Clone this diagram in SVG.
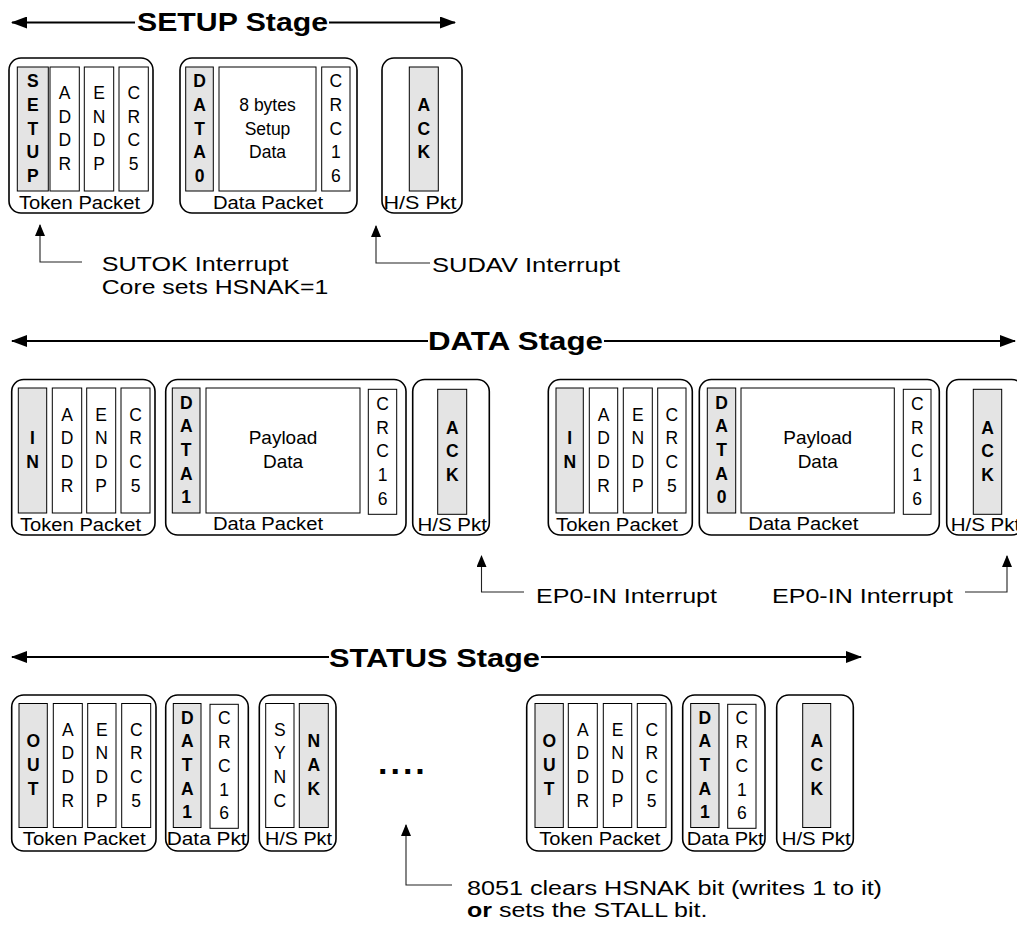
<svg xmlns="http://www.w3.org/2000/svg" width="1017" height="928" viewBox="0 0 1017 928">
<style>
text{font-family:"Liberation Sans",Arial,sans-serif;fill:#000}
.box{fill:#fff;stroke:#000;stroke-width:1.6}
.fld{fill:#fff;stroke:#000;stroke-width:1}
.gry{fill:#e4e4e4;stroke:#000;stroke-width:1}
.v{font-size:17.5px;text-anchor:middle}
.vb{font-size:17.5px;text-anchor:middle;font-weight:bold}
.pl{font-size:19px;text-anchor:middle}
.lbl{font-size:17.5px}
.ttl{font-size:26px;font-weight:bold}
.ann{font-size:20.5px}
.stg{stroke:#000;stroke-width:2;fill:none}
.con{stroke:#222;stroke-width:1.1;fill:none}
</style>
<defs>
<marker id="bigArr" markerUnits="userSpaceOnUse" markerWidth="16" markerHeight="12" refX="15" refY="6" orient="auto-start-reverse" viewBox="0 0 16 12">
<path d="M0,0 L16,6 L0,12 z" fill="#000"/>
</marker>
<marker id="smArr" markerUnits="userSpaceOnUse" markerWidth="12" markerHeight="10" refX="11" refY="5" orient="auto" viewBox="0 0 12 10">
<path d="M0,0 L12,5 L0,10 z" fill="#000"/>
</marker>
</defs>

<g id="connectors">
<line class="stg" x1="135" y1="22.5" x2="12" y2="22.5" marker-end="url(#bigArr)"/>
<line class="stg" x1="329" y1="22.5" x2="455" y2="22.5" marker-end="url(#bigArr)"/>
<line class="stg" x1="428" y1="341" x2="12" y2="341" marker-end="url(#bigArr)"/>
<line class="stg" x1="604" y1="341" x2="1015" y2="341" marker-end="url(#bigArr)"/>
<line class="stg" x1="329" y1="657" x2="12" y2="657" marker-end="url(#bigArr)"/>
<line class="stg" x1="541" y1="657" x2="861" y2="657" marker-end="url(#bigArr)"/>
<polyline class="con" points="82,262 40,262 40,225" marker-end="url(#smArr)"/>
<polyline class="con" points="430,263 376,263 376,226" marker-end="url(#smArr)"/>
<polyline class="con" points="524,592 481.5,592 481.5,556" marker-end="url(#smArr)"/>
<polyline class="con" points="965,592 1007,592 1007,556" marker-end="url(#smArr)"/>
<polyline class="con" points="452,885 406,885 406,825" marker-end="url(#smArr)"/>
</g>

<g id="stage-titles">
<text class="ttl" x="137" y="31" textLength="191" lengthAdjust="spacingAndGlyphs">SETUP Stage</text>
<text class="ttl" x="428" y="350" textLength="175" lengthAdjust="spacingAndGlyphs">DATA Stage</text>
<text class="ttl" x="329" y="666.5" textLength="211" lengthAdjust="spacingAndGlyphs">STATUS Stage</text>
</g>

<g id="setup-token">
<rect class="box" x="9" y="58" width="144" height="155" rx="12"/>
<rect class="gry" x="17.3" y="67" width="31" height="124"/>
<rect class="fld" x="50" y="67" width="29.3" height="124"/>
<rect class="fld" x="84.3" y="67" width="29.4" height="124"/>
<rect class="fld" x="119" y="67" width="29.3" height="124"/>
<text class="vb"><tspan x="32.8" y="87.1">S</tspan><tspan x="32.8" y="110.8">E</tspan><tspan x="32.8" y="134.5">T</tspan><tspan x="32.8" y="158.2">U</tspan><tspan x="32.8" y="181.9">P</tspan></text>
<text class="v"><tspan x="64.7" y="99">A</tspan><tspan x="64.7" y="122.7">D</tspan><tspan x="64.7" y="146.4">D</tspan><tspan x="64.7" y="170.1">R</tspan></text>
<text class="v"><tspan x="99" y="99">E</tspan><tspan x="99" y="122.7">N</tspan><tspan x="99" y="146.4">D</tspan><tspan x="99" y="170.1">P</tspan></text>
<text class="v"><tspan x="133.7" y="99">C</tspan><tspan x="133.7" y="122.7">R</tspan><tspan x="133.7" y="146.4">C</tspan><tspan x="133.7" y="170.1">5</tspan></text>
<text class="lbl" x="19" y="209" textLength="121" lengthAdjust="spacingAndGlyphs">Token Packet</text>
</g>

<g id="setup-data">
<rect class="box" x="180" y="58" width="177" height="155" rx="12"/>
<rect class="gry" x="185.7" y="67" width="27.6" height="124"/>
<rect class="fld" x="219" y="67" width="97" height="124"/>
<rect class="fld" x="321.7" y="67" width="28.3" height="124"/>
<text class="vb"><tspan x="199.5" y="87.1">D</tspan><tspan x="199.5" y="110.8">A</tspan><tspan x="199.5" y="134.5">T</tspan><tspan x="199.5" y="158.2">A</tspan><tspan x="199.5" y="181.9">0</tspan></text>
<text class="v"><tspan x="267.5" y="110.8">8 bytes</tspan><tspan x="267.5" y="134.5">Setup</tspan><tspan x="267.5" y="158.2">Data</tspan></text>
<text class="v"><tspan x="335.9" y="87.1">C</tspan><tspan x="335.9" y="110.8">R</tspan><tspan x="335.9" y="134.5">C</tspan><tspan x="335.9" y="158.2">1</tspan><tspan x="335.9" y="181.9">6</tspan></text>
<text class="lbl" x="213" y="209" textLength="110" lengthAdjust="spacingAndGlyphs">Data Packet</text>
</g>

<g id="setup-hs">
<rect class="box" x="382" y="58" width="80" height="155" rx="12"/>
<rect class="gry" x="409.3" y="67" width="29" height="124"/>
<text class="vb"><tspan x="423.8" y="110.8">A</tspan><tspan x="423.8" y="134.5">C</tspan><tspan x="423.8" y="158.2">K</tspan></text>
<text class="lbl" x="383.5" y="209" textLength="73" lengthAdjust="spacingAndGlyphs">H/S Pkt</text>
</g>

<g id="sutok-note">
<text class="ann" x="101.7" y="271" textLength="186.7" lengthAdjust="spacingAndGlyphs">SUTOK Interrupt</text>
<text class="ann" x="101.7" y="294" textLength="226.7" lengthAdjust="spacingAndGlyphs">Core sets HSNAK=1</text>
</g>
<g id="sudav-note">
<text class="ann" x="432" y="272" textLength="188" lengthAdjust="spacingAndGlyphs">SUDAV Interrupt</text>
</g>

<g id="data1-token">
<rect class="box" x="11.7" y="379.5" width="143.3" height="155.5" rx="12"/>
<rect class="gry" x="18.3" y="388" width="28.4" height="125"/>
<rect class="fld" x="52.3" y="388" width="29.4" height="125"/>
<rect class="fld" x="86.7" y="388" width="29" height="125"/>
<rect class="fld" x="121" y="388" width="29" height="125"/>
<text class="vb"><tspan x="32.5" y="444.2">I</tspan><tspan x="32.5" y="467.9">N</tspan></text>
<text class="v"><tspan x="67" y="420.5">A</tspan><tspan x="67" y="444.2">D</tspan><tspan x="67" y="467.9">D</tspan><tspan x="67" y="491.6">R</tspan></text>
<text class="v"><tspan x="101.2" y="420.5">E</tspan><tspan x="101.2" y="444.2">N</tspan><tspan x="101.2" y="467.9">D</tspan><tspan x="101.2" y="491.6">P</tspan></text>
<text class="v"><tspan x="135.5" y="420.5">C</tspan><tspan x="135.5" y="444.2">R</tspan><tspan x="135.5" y="467.9">C</tspan><tspan x="135.5" y="491.6">5</tspan></text>
<text class="lbl" x="20" y="530.5" textLength="121" lengthAdjust="spacingAndGlyphs">Token Packet</text>
</g>

<g id="data1-data">
<rect class="box" x="165.7" y="379.5" width="240.3" height="155.5" rx="12"/>
<rect class="gry" x="172.3" y="388" width="27.7" height="125"/>
<rect class="fld" x="206" y="388" width="154" height="125"/>
<rect class="fld" x="368.3" y="389.3" width="28.4" height="125"/>
<text class="vb"><tspan x="186.2" y="408.6">D</tspan><tspan x="186.2" y="432.3">A</tspan><tspan x="186.2" y="456">T</tspan><tspan x="186.2" y="479.7">A</tspan><tspan x="186.2" y="503.4">1</tspan></text>
<text class="pl"><tspan x="283" y="444.2">Payload</tspan><tspan x="283" y="467.9">Data</tspan></text>
<text class="v"><tspan x="382.5" y="409.9">C</tspan><tspan x="382.5" y="433.6">R</tspan><tspan x="382.5" y="457.3">C</tspan><tspan x="382.5" y="481">1</tspan><tspan x="382.5" y="504.7">6</tspan></text>
<text class="lbl" x="213" y="530" textLength="110" lengthAdjust="spacingAndGlyphs">Data Packet</text>
</g>

<g id="data1-hs">
<rect class="box" x="412.7" y="379.5" width="76.6" height="155.5" rx="12"/>
<rect class="gry" x="437.7" y="389.3" width="29" height="125"/>
<text class="vb"><tspan x="452.2" y="433.6">A</tspan><tspan x="452.2" y="457.3">C</tspan><tspan x="452.2" y="481">K</tspan></text>
<text class="lbl" x="417.5" y="530.5" textLength="69.5" lengthAdjust="spacingAndGlyphs">H/S Pkt</text>
</g>

<g id="data2-token">
<rect class="box" x="548.3" y="379.5" width="144" height="155.5" rx="12"/>
<rect class="gry" x="556" y="388" width="27.3" height="125"/>
<rect class="fld" x="589.3" y="388" width="28.4" height="125"/>
<rect class="fld" x="623.3" y="388" width="29" height="125"/>
<rect class="fld" x="657.7" y="388" width="28.3" height="125"/>
<text class="vb"><tspan x="569.7" y="444.2">I</tspan><tspan x="569.7" y="467.9">N</tspan></text>
<text class="v"><tspan x="603.5" y="420.5">A</tspan><tspan x="603.5" y="444.2">D</tspan><tspan x="603.5" y="467.9">D</tspan><tspan x="603.5" y="491.6">R</tspan></text>
<text class="v"><tspan x="637.8" y="420.5">E</tspan><tspan x="637.8" y="444.2">N</tspan><tspan x="637.8" y="467.9">D</tspan><tspan x="637.8" y="491.6">P</tspan></text>
<text class="v"><tspan x="671.9" y="420.5">C</tspan><tspan x="671.9" y="444.2">R</tspan><tspan x="671.9" y="467.9">C</tspan><tspan x="671.9" y="491.6">5</tspan></text>
<text class="lbl" x="556" y="530.5" textLength="122" lengthAdjust="spacingAndGlyphs">Token Packet</text>
</g>

<g id="data2-data">
<rect class="box" x="699.3" y="379.5" width="240" height="155.5" rx="12"/>
<rect class="gry" x="707.3" y="388" width="28.4" height="125"/>
<rect class="fld" x="741" y="388" width="153.3" height="125"/>
<rect class="fld" x="903.3" y="389.3" width="27.7" height="125"/>
<text class="vb"><tspan x="721.5" y="408.6">D</tspan><tspan x="721.5" y="432.3">A</tspan><tspan x="721.5" y="456">T</tspan><tspan x="721.5" y="479.7">A</tspan><tspan x="721.5" y="503.4">0</tspan></text>
<text class="pl"><tspan x="817.7" y="444.2">Payload</tspan><tspan x="817.7" y="467.9">Data</tspan></text>
<text class="v"><tspan x="917.2" y="409.9">C</tspan><tspan x="917.2" y="433.6">R</tspan><tspan x="917.2" y="457.3">C</tspan><tspan x="917.2" y="481">1</tspan><tspan x="917.2" y="504.7">6</tspan></text>
<text class="lbl" x="748.3" y="530" textLength="110" lengthAdjust="spacingAndGlyphs">Data Packet</text>
</g>

<g id="data2-hs">
<rect class="box" x="946.7" y="379.5" width="77" height="155.5" rx="12"/>
<rect class="gry" x="973.3" y="389.3" width="28.4" height="125"/>
<text class="vb"><tspan x="987.5" y="433.6">A</tspan><tspan x="987.5" y="457.3">C</tspan><tspan x="987.5" y="481">K</tspan></text>
<text class="lbl" x="950.7" y="530.5" textLength="69.5" lengthAdjust="spacingAndGlyphs">H/S Pkt</text>
</g>

<g id="ep0-note-1">
<text class="ann" x="536" y="603" textLength="181" lengthAdjust="spacingAndGlyphs">EP0-IN Interrupt</text>
</g>
<g id="ep0-note-2">
<text class="ann" x="772" y="603" textLength="181" lengthAdjust="spacingAndGlyphs">EP0-IN Interrupt</text>
</g>

<g id="status1-token">
<rect class="box" x="11.7" y="695" width="144.3" height="156" rx="12"/>
<rect class="gry" x="19" y="703.5" width="28.3" height="124"/>
<rect class="fld" x="53.3" y="703.5" width="29" height="124"/>
<rect class="fld" x="87.7" y="703.5" width="28.3" height="124"/>
<rect class="fld" x="121.7" y="703.5" width="29" height="124"/>
<text class="vb"><tspan x="33.2" y="747.3">O</tspan><tspan x="33.2" y="771">U</tspan><tspan x="33.2" y="794.7">T</tspan></text>
<text class="v"><tspan x="67.8" y="735.5">A</tspan><tspan x="67.8" y="759.2">D</tspan><tspan x="67.8" y="782.9">D</tspan><tspan x="67.8" y="806.6">R</tspan></text>
<text class="v"><tspan x="101.9" y="735.5">E</tspan><tspan x="101.9" y="759.2">N</tspan><tspan x="101.9" y="782.9">D</tspan><tspan x="101.9" y="806.6">P</tspan></text>
<text class="v"><tspan x="136.2" y="735.5">C</tspan><tspan x="136.2" y="759.2">R</tspan><tspan x="136.2" y="782.9">C</tspan><tspan x="136.2" y="806.6">5</tspan></text>
<text class="lbl" x="22.7" y="845" textLength="123" lengthAdjust="spacingAndGlyphs">Token Packet</text>
</g>

<g id="status1-data">
<rect class="box" x="165.7" y="695" width="82.6" height="156" rx="12"/>
<rect class="gry" x="173.3" y="703.5" width="27.7" height="124"/>
<rect class="fld" x="210" y="704.3" width="28.3" height="124"/>
<text class="vb"><tspan x="187.2" y="723.6">D</tspan><tspan x="187.2" y="747.3">A</tspan><tspan x="187.2" y="771">T</tspan><tspan x="187.2" y="794.7">A</tspan><tspan x="187.2" y="818.4">1</tspan></text>
<text class="v"><tspan x="224.2" y="724.4">C</tspan><tspan x="224.2" y="748.1">R</tspan><tspan x="224.2" y="771.8">C</tspan><tspan x="224.2" y="795.5">1</tspan><tspan x="224.2" y="819.2">6</tspan></text>
<text class="lbl" x="166.7" y="845" textLength="80" lengthAdjust="spacingAndGlyphs">Data Pkt</text>
</g>

<g id="status1-hs">
<rect class="box" x="259.3" y="695" width="76.7" height="156" rx="12"/>
<rect class="fld" x="265.7" y="703.5" width="28.3" height="124"/>
<rect class="gry" x="299.3" y="703.5" width="29" height="124"/>
<text class="v"><tspan x="279.9" y="735.5">S</tspan><tspan x="279.9" y="759.2">Y</tspan><tspan x="279.9" y="782.9">N</tspan><tspan x="279.9" y="806.6">C</tspan></text>
<text class="vb"><tspan x="313.8" y="747.3">N</tspan><tspan x="313.8" y="771">A</tspan><tspan x="313.8" y="794.7">K</tspan></text>
<text class="lbl" x="265" y="845" textLength="67" lengthAdjust="spacingAndGlyphs">H/S Pkt</text>
</g>

<g id="ellipsis">
<text x="378" y="774" style="font-size:34px;font-weight:bold;letter-spacing:3px">....</text>
</g>

<g id="status2-token">
<rect class="box" x="526.7" y="695" width="145" height="156" rx="12"/>
<rect class="gry" x="535" y="703.5" width="28.3" height="124"/>
<rect class="fld" x="568.3" y="703.5" width="29" height="124"/>
<rect class="fld" x="603.3" y="703.5" width="28.4" height="124"/>
<rect class="fld" x="637.3" y="703.5" width="28.7" height="124"/>
<text class="vb"><tspan x="549.2" y="747.3">O</tspan><tspan x="549.2" y="771">U</tspan><tspan x="549.2" y="794.7">T</tspan></text>
<text class="v"><tspan x="582.8" y="735.5">A</tspan><tspan x="582.8" y="759.2">D</tspan><tspan x="582.8" y="782.9">D</tspan><tspan x="582.8" y="806.6">R</tspan></text>
<text class="v"><tspan x="617.5" y="735.5">E</tspan><tspan x="617.5" y="759.2">N</tspan><tspan x="617.5" y="782.9">D</tspan><tspan x="617.5" y="806.6">P</tspan></text>
<text class="v"><tspan x="651.7" y="735.5">C</tspan><tspan x="651.7" y="759.2">R</tspan><tspan x="651.7" y="782.9">C</tspan><tspan x="651.7" y="806.6">5</tspan></text>
<text class="lbl" x="539.3" y="845" textLength="121" lengthAdjust="spacingAndGlyphs">Token Packet</text>
</g>

<g id="status2-data">
<rect class="box" x="682.7" y="695" width="82.3" height="156" rx="12"/>
<rect class="gry" x="690.7" y="703.5" width="28.3" height="124"/>
<rect class="fld" x="727.7" y="704.3" width="28.3" height="124"/>
<text class="vb"><tspan x="704.9" y="723.6">D</tspan><tspan x="704.9" y="747.3">A</tspan><tspan x="704.9" y="771">T</tspan><tspan x="704.9" y="794.7">A</tspan><tspan x="704.9" y="818.4">1</tspan></text>
<text class="v"><tspan x="741.9" y="724.4">C</tspan><tspan x="741.9" y="748.1">R</tspan><tspan x="741.9" y="771.8">C</tspan><tspan x="741.9" y="795.5">1</tspan><tspan x="741.9" y="819.2">6</tspan></text>
<text class="lbl" x="686.7" y="845" textLength="77" lengthAdjust="spacingAndGlyphs">Data Pkt</text>
</g>

<g id="status2-hs">
<rect class="box" x="776.7" y="695" width="76.6" height="156" rx="12"/>
<rect class="gry" x="802.7" y="703.5" width="28" height="124"/>
<text class="vb"><tspan x="816.7" y="747.3">A</tspan><tspan x="816.7" y="771">C</tspan><tspan x="816.7" y="794.7">K</tspan></text>
<text class="lbl" x="781.7" y="845" textLength="69" lengthAdjust="spacingAndGlyphs">H/S Pkt</text>
</g>

<g id="hsnak-note">
<text class="ann" x="467" y="895" textLength="415" lengthAdjust="spacingAndGlyphs">8051 clears HSNAK bit (writes 1 to it)</text>
<text class="ann" transform="translate(467,917) scale(1.22,1)" x="0" y="0"><tspan font-weight="bold">or</tspan> sets the STALL bit.</text>
</g>
</svg>
